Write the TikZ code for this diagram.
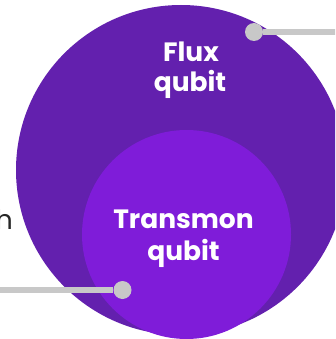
\documentclass[tikz,border=0pt]{standalone}
\usepackage{fontspec}
\setmainfont{Poppins}
\definecolor{fluxpurple}{HTML}{6320AE}
\definecolor{transpurple}{HTML}{7F1CD9}
\definecolor{pingray}{HTML}{C8C8C8}
\begin{document}
\begin{tikzpicture}
[x=1pt,y=-1pt,%
  disc/.style={shape=circle,inner sep=0pt},%
  qubittext/.style={text=white,anchor=base,inner sep=0pt,%
    font=\bfseries\fontsize{26.5}{30}\selectfont},%
  pinline/.style={pingray,line width=6pt},%
  pinhead/.style={shape=circle,fill=pingray,minimum size=18pt,inner sep=0pt}]
\useasboundingbox (0,0) rectangle (335,339);
\clip (0,0) rectangle (335,339);
% the two qubit discs
\node[disc,fill=fluxpurple,minimum size=330pt] (flux) at (181,170) {};
\node[disc,fill=transpurple,minimum size=209pt] (transmon) at (186.5,234.5) {};
% names
\node[qubittext] (fluxname) at (191,62) {Flux};
\node[qubittext] (fluxsub) at (190,92) {qubit};
\node[qubittext] (transname) at (183.5,228) {Transmon};
\node[qubittext] (transsub) at (183.5,260) {qubit};
% cut-off word on the left
\node[anchor=base east,inner sep=0pt,text=black!85,%
  font=\fontsize{27}{30}\selectfont] (leftword) at (13,229) {h};
% pins
\node[pinhead] (fluxpin) at (254,32) {};
\coordinate (fluxend) at (336,32);
\draw[pinline] (fluxpin) -- (fluxend);
\node[pinhead] (transpin) at (122.5,290) {};
\coordinate (transend) at (-1,290);
\draw[pinline] (transpin) -- (transend);
\end{tikzpicture}
\end{document}
